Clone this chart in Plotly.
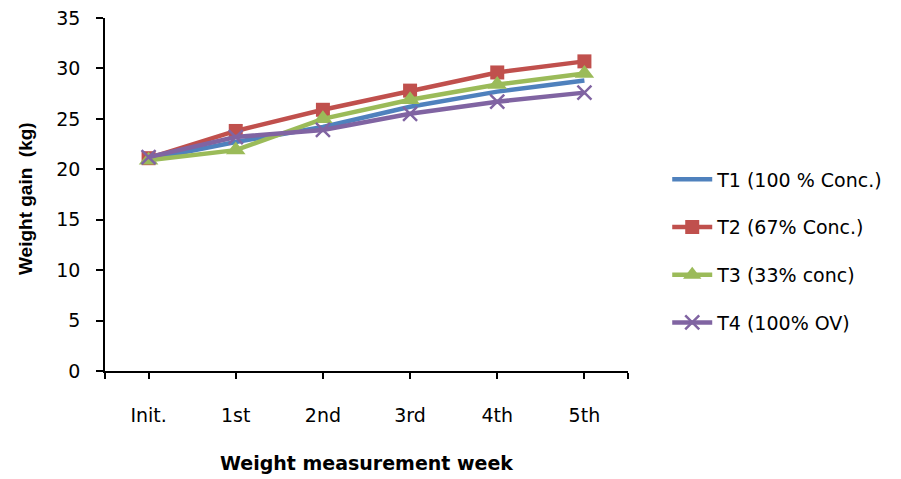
import plotly.graph_objects as go

weeks = ["Init.", "1st", "2nd", "3rd", "4th", "5th"]
t1_values = [21.0, 22.7, 24.2, 26.2, 27.7, 28.8]
t2_values = [21.1, 23.8, 25.9, 27.8, 29.6, 30.7]
t3_values = [20.9, 21.9, 25.0, 26.9, 28.4, 29.5]
t4_values = [21.2, 23.2, 23.9, 25.5, 26.7, 27.6]

series_names = ["T1 (100 % Conc.)", "T2 (67% Conc.)", "T3 (33% conc)", "T4 (100% OV)"]
y_ticks = [0, 5, 10, 15, 20, 25, 30, 35]

FONT = "DejaVu Sans"
colors = ["#4F81BD", "#C0504D", "#9BBB59", "#8064A2"]
symbols = [None, "square", "triangle-up", "x-thin"]
sizes = [0, 14, 17, 14]

fig = go.Figure()
for i, (name, vals) in enumerate(zip(series_names, [t1_values, t2_values, t3_values, t4_values])):
    marker = dict(color=colors[i], size=sizes[i])
    if symbols[i] is None:
        mode = "lines"
    else:
        mode = "lines+markers"
        marker["symbol"] = symbols[i]
        if symbols[i] == "x-thin":
            marker["line"] = dict(color=colors[i], width=2.5)
    fig.add_trace(go.Scatter(
        x=list(range(len(weeks))), y=vals, name=name, mode=mode,
        line=dict(color=colors[i], width=4.5),
        marker=marker, legendgroup=f"g{i}",
    ))

fig.update_layout(
    width=901, height=479,
    margin=dict(l=105, r=273, t=18, b=108),
    paper_bgcolor="white", plot_bgcolor="white",
    font=dict(family=FONT, size=19, color="#000000"),
    showlegend=True,
    legend=dict(
        x=1.075, xanchor="left", y=0.34, yanchor="middle",
        font=dict(family=FONT, size=19, color="#000000"),
        tracegroupgap=20, itemwidth=40,
        bgcolor="rgba(0,0,0,0)",
    ),
    annotations=[dict(
        text="<b>Weight gain  (kg)</b>", textangle=-90,
        xref="paper", yref="paper", x=-0.153, y=0.49,
        xanchor="center", yanchor="middle", showarrow=False,
        font=dict(family="Liberation Sans", size=19, color="#000000"),
    )],
)

fig.update_xaxes(
    range=[-0.5, 5.5], automargin=False,
    tickmode="array", tickvals=list(range(len(weeks))), ticktext=weeks,
    showline=True, linecolor="#000000", linewidth=1.5,
    ticks="outside", ticklen=6, tickcolor="#000000", tickwidth=1.5,
    minor=dict(tickvals=[-0.5, 5.5], ticks="outside", ticklen=6,
               tickcolor="#000000", tickwidth=1.5, showgrid=False),
    ticklabelstandoff=20,
    showgrid=False, zeroline=False,
    title=dict(text="<b>Weight measurement week</b>", standoff=32,
               font=dict(family=FONT, size=19, color="#000000")),
)
fig.update_yaxes(
    range=[0, 35], tickvals=y_ticks, automargin=False,
    showline=True, linecolor="#000000", linewidth=1.5,
    ticks="outside", ticklen=7, tickcolor="#000000", tickwidth=1.5,
    ticklabelstandoff=12,
    showgrid=False, zeroline=False,
)

fig.write_html("out.html")
